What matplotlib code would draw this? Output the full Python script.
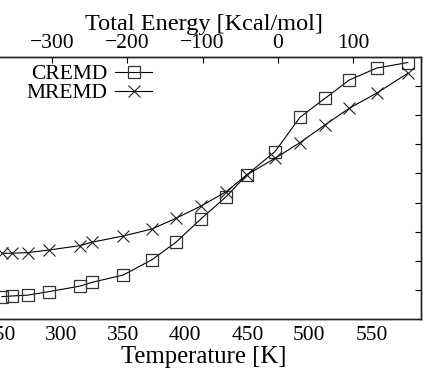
import numpy as np
import matplotlib.pyplot as plt

plt.rcParams['font.family'] = ['Liberation Serif', 'DejaVu Serif']

### Data ###
# replica temperatures [K]
temperature = [252.5, 260.3, 273.2, 290.3, 315.3, 325.0, 350.0, 373.0, 392.6,
               412.7, 432.9, 449.5, 472.3, 492.4, 512.6, 532.1, 554.2, 579.2]
# left axis values (their labels fall outside the cropped reference)
cremd = [0.77, 0.79, 0.82, 0.94, 1.13, 1.26, 1.51, 2.03, 2.64,
         3.44, 4.20, 4.95, 5.75, 6.93, 7.58, 8.21, 8.62, 8.81]
mremd = [2.26, 2.26, 2.28, 2.37, 2.52, 2.64, 2.85, 3.09, 3.46,
         3.88, 4.37, 4.95, 5.52, 6.06, 6.67, 7.24, 7.76, 8.44]
y_ticks = [1, 2, 3, 4, 5, 6, 7, 8]
t_ticks = [250, 300, 350, 400, 450, 500, 550]
e_ticks = [-300, -200, -100, 0, 100]
e_labels = ['\u2212300', '\u2212200', '\u2212100', '0', '100']

W, H = 423, 369
t_lim = (240, 590)
e_lim = (-386.7, 190.0)

fig = plt.figure(figsize=(W / 100, H / 100), dpi=100)
# axes run past the left edge, like the cropped original
x0 = -13.5
ax = fig.add_axes([x0 / W, (H - 319) / H, (421.2 - x0) / W, (319 - 57) / H])

ax.plot(temperature, cremd, color='black', linewidth=0.8, marker='s', markersize=8,
        markerfacecolor='none', markeredgecolor='#333333', markeredgewidth=0.9, label='CREMD')
ax.plot(temperature, mremd, color='black', linewidth=0.8, marker='x', markersize=9,
        markeredgecolor='#222222', markeredgewidth=0.8, label='MREMD')

ax.set_xlim(*t_lim)
ax.set_ylim(0, 9)
ax.set_xticks(t_ticks)
ax.set_yticks(y_ticks)
ax.set_xlabel('Temperature [K]', fontsize=17.8, labelpad=1)
ax.tick_params(axis='x', direction='in', length=0, labelsize=15.5, pad=5)
ax.tick_params(axis='y', direction='in', length=4, width=0.8, right=True, labelleft=False)

ax2 = ax.twiny()
ax2.set_xlim(*e_lim)
ax2.set_xticks(e_ticks)
ax2.set_xticklabels(e_labels)
ax2.set_xlabel('Total Energy [Kcal/mol]', fontsize=17.5, labelpad=3)
ax2.tick_params(axis='x', direction='in', length=4, width=0.8, labelsize=15.5, pad=3)

for a in (ax, ax2):
    for s in a.spines.values():
        s.set_linewidth(1.0)
        s.set_color('#222222')

ax.legend(loc='upper right', bbox_to_anchor=(152 / W, 1 - 64 / H), bbox_transform=fig.transFigure,
          frameon=False, markerfirst=False, fontsize=15.5, handlelength=1.7,
          handletextpad=0.35, labelspacing=-0.05, borderpad=0, borderaxespad=0)

fig.savefig('out.png', dpi=100)
